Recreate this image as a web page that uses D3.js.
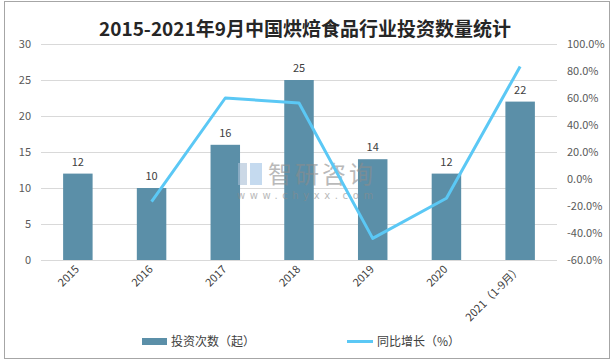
<!DOCTYPE html>
<html>
<head>
<meta charset="utf-8">
<script src="https://cdn.jsdelivr.net/npm/d3@7"></script>
<style>
  body { margin: 0; background: #fff; }
  svg { display: block; font-family: "Noto Sans CJK SC", "Noto Sans", sans-serif; }
</style>
</head>
<body>
<svg id="chart" width="614" height="362"></svg>
<script>
const years = ['2015', '2016', '2017', '2018', '2019', '2020', '2021（1-9月）'];
const deals = [12, 10, 16, 25, 14, 12, 22];
const growth = [null, -16.7, 60, 56.25, -44, -14.3, 83.3];
const leftTicks = [0, 5, 10, 15, 20, 25, 30];
const rightTicks = [-60, -40, -20, 0, 20, 40, 60, 80, 100];

const svg = d3.select('#chart');
const plotTop = 44, plotBottom = 260, plotLeft = 41, plotRight = 557;

// frame
svg.append('rect')
  .attr('x', 4.5).attr('y', 1.5).attr('width', 605).attr('height', 357)
  .attr('fill', 'none').attr('stroke', '#a6a6a6');

svg.append('text')
  .attr('x', 305).attr('y', 36)
  .attr('text-anchor', 'middle')
  .attr('font-size', 19).attr('font-weight', 'bold').attr('fill', '#262626')
  .text('2015-2021年9月中国烘焙食品行业投资数量统计');

const x = d3.scaleBand().domain(years).range([plotLeft, plotRight]).paddingInner(0.6).paddingOuter(0.3);
const yL = d3.scaleLinear().domain([0, 30]).range([plotBottom, plotTop]);
const yR = d3.scaleLinear().domain([-60, 100]).range([plotBottom, plotTop]);

// grid
svg.append('g').selectAll('line').data(leftTicks).join('line')
  .attr('x1', plotLeft).attr('x2', plotRight)
  .attr('y1', d => yL(d) + 0.5).attr('y2', d => yL(d) + 0.5)
  .attr('stroke', '#d9d9d9');

// left axis
svg.append('g').selectAll('text').data(leftTicks).join('text')
  .attr('x', 31).attr('y', d => yL(d) + 4)
  .attr('text-anchor', 'end').attr('font-size', 11).attr('fill', '#595959')
  .text(d => d);

// right axis
svg.append('g').selectAll('text').data(rightTicks).join('text')
  .attr('x', 567).attr('y', d => yR(d) + 4)
  .attr('font-size', 11).attr('fill', '#595959')
  .text(d => d.toFixed(1) + '%');

// bars
svg.append('g').selectAll('rect').data(deals).join('rect')
  .attr('x', (d, i) => x(years[i]))
  .attr('y', d => yL(d))
  .attr('width', x.bandwidth())
  .attr('height', d => plotBottom - yL(d))
  .attr('fill', '#5b8fa8');

svg.append('g').selectAll('text').data(deals).join('text')
  .attr('x', (d, i) => x(years[i]) + x.bandwidth() / 2)
  .attr('y', d => yL(d) - 8)
  .attr('text-anchor', 'middle').attr('font-size', 11).attr('fill', '#404040')
  .text(d => d);

// x labels
svg.append('g').selectAll('text').data(years).join('text')
  .attr('transform', d => `translate(${x(d) + x.bandwidth() / 2 + 2},${plotBottom + 10}) rotate(-45)`)
  .attr('text-anchor', 'end').attr('font-size', 11).attr('fill', '#404040')
  .text(d => d);

// watermark
const wm = svg.append('g').attr('opacity', 0.6);
wm.append('rect').attr('x', 238).attr('y', 163).attr('width', 9).attr('height', 22).attr('fill', '#a9bfd6');
wm.append('rect').attr('x', 250).attr('y', 163).attr('width', 12).attr('height', 22).attr('fill', '#9fc3e6');
wm.append('text').attr('x', 268).attr('y', 183)
  .attr('font-size', 24).attr('fill', '#8c8c8c').attr('letter-spacing', 3)
  .text('智研咨询');
wm.append('text').attr('x', 237).attr('y', 199)
  .attr('font-family', 'DejaVu Sans')
  .attr('font-size', 10).attr('fill', '#8c8c8c').attr('letter-spacing', 4.6)
  .text('www.chyxx.com');

// line
const line = d3.line()
  .defined(d => d != null)
  .x((d, i) => x(years[i]) + x.bandwidth() / 2)
  .y(d => yR(d));
svg.append('path').datum(growth)
  .attr('d', line)
  .attr('fill', 'none').attr('stroke', '#5bc8f5').attr('stroke-width', 3)
  .attr('stroke-linejoin', 'round');

// legend
svg.append('rect').attr('x', 142).attr('y', 338).attr('width', 25).attr('height', 7).attr('fill', '#5b8fa8');
svg.append('text').attr('x', 171).attr('y', 346).attr('font-size', 12).attr('fill', '#404040').text('投资次数（起）');
svg.append('line').attr('x1', 347).attr('x2', 373).attr('y1', 341.5).attr('y2', 341.5)
  .attr('stroke', '#5bc8f5').attr('stroke-width', 3);
svg.append('text').attr('x', 377).attr('y', 346).attr('font-size', 12).attr('fill', '#404040').text('同比增长（%）');
</script>
</body>
</html>
